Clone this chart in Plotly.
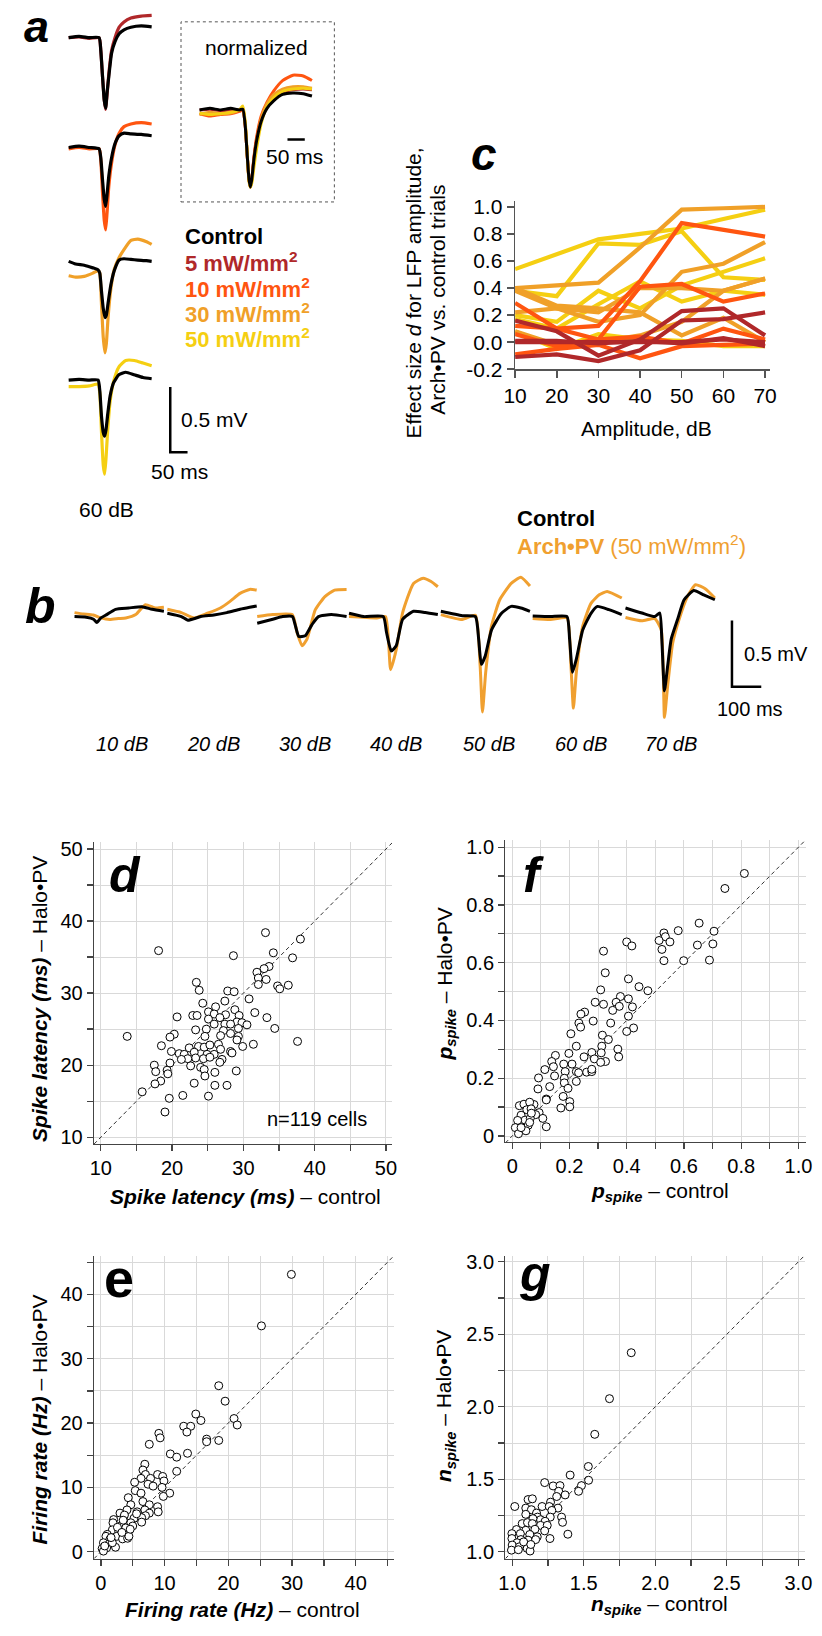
import plotly.graph_objects as go

W, H = 822, 1636
FONT = "Liberation Sans, Arial, Helvetica, sans-serif"

COL_CTRL = "#000000"
COL_5 = "#b0282a"
COL_10 = "#ff5510"
COL_30 = "#f0a028"
COL_50 = "#f5cf12"
COL_ARCH = "#f0a030"

# ---------------- panel a: LFP at 60 dB (time, ms / LFP, mV) ----------------
a_powers = ["5 mW/mm<sup>2</sup>", "10 mW/mm<sup>2</sup>", "30 mW/mm<sup>2</sup>", "50 mW/mm<sup>2</sup>"]
a_row_colors = [COL_5, COL_10, COL_30, COL_50]
a_t = [
    [0, 30, 60, 88, 93, 98, 103, 107, 111, 116, 124, 134, 146, 160, 180, 210, 240],
    [0, 30, 60, 88, 93, 98, 103, 107, 111, 116, 124, 134, 146, 160, 180, 210, 240],
    [0, 20, 45, 70, 85, 90, 95, 100, 105, 109, 114, 122, 132, 146, 160, 180, 200, 225, 240],
    [0, 30, 60, 85, 90, 95, 100, 104, 108, 113, 120, 130, 145, 165, 190, 215, 240],
]
a_control = [
    [0.0, 0.01, 0.0, 0.0, -0.1, -0.3, -0.48, -0.54, -0.42, -0.3, -0.12, -0.03, 0.03, 0.06, 0.08, 0.09, 0.083],
    [0.0, 0.01, 0.0, -0.01, -0.08, -0.25, -0.4, -0.45, -0.36, -0.22, -0.08, 0.03, 0.09, 0.11, 0.105, 0.1, 0.09],
    [0.03, 0.01, 0.0, -0.02, -0.035, -0.06, -0.2, -0.33, -0.40, -0.38, -0.29, -0.15, -0.04, 0.04, 0.05, 0.045, 0.04, 0.035, 0.03],
    [0.0, 0.005, 0.0, 0.0, -0.08, -0.28, -0.4, -0.43, -0.38, -0.26, -0.12, -0.02, 0.04, 0.06, 0.04, 0.02, 0.01],
]
a_laser = [
    [0.0, 0.005, -0.005, 0.0, -0.1, -0.3, -0.48, -0.55, -0.44, -0.28, -0.1, 0.0, 0.08, 0.12, 0.15, 0.165, 0.17],
    [-0.01, 0.0, -0.01, -0.01, -0.1, -0.35, -0.56, -0.63, -0.5, -0.3, -0.12, 0.02, 0.11, 0.16, 0.18, 0.19, 0.18],
    [-0.08, -0.09, -0.085, -0.06, -0.04, -0.06, -0.3, -0.55, -0.67, -0.6, -0.4, -0.18, -0.03, 0.06, 0.12, 0.19, 0.2, 0.18, 0.16],
    [-0.05, -0.05, -0.045, -0.03, -0.1, -0.4, -0.65, -0.72, -0.6, -0.38, -0.16, -0.01, 0.1, 0.15, 0.15, 0.13, 0.11],
]

# normalized inset (time, ms / normalized LFP)
n_t = [0, 30, 60, 90, 115, 125, 132, 138, 143, 147, 151, 157, 165, 178, 195, 215, 240, 270, 300, 325]
n_5 = [0.0, 0.01, -0.01, 0.0, 0.0, 0.01, -0.2, -0.6, -0.9, -1.0, -0.9, -0.64, -0.38, -0.12, 0.05, 0.16, 0.23, 0.26, 0.27, 0.26]
n_10 = [-0.05, -0.08, -0.06, -0.05, -0.02, 0.0, -0.2, -0.6, -0.9, -1.0, -0.9, -0.62, -0.35, -0.08, 0.1, 0.25, 0.38, 0.45, 0.44, 0.38]
n_30 = [-0.06, -0.03, -0.05, -0.04, 0.0, 0.03, -0.18, -0.6, -0.92, -1.0, -0.92, -0.68, -0.42, -0.12, 0.08, 0.2, 0.27, 0.3, 0.3, 0.28]
n_50 = [-0.04, -0.06, -0.05, -0.03, 0.0, 0.05, -0.15, -0.58, -0.92, -1.0, -0.95, -0.75, -0.5, -0.18, 0.04, 0.16, 0.24, 0.27, 0.28, 0.27]
n_ctrl = [0.0, 0.02, 0.0, 0.02, 0.0, 0.01, -0.2, -0.6, -0.9, -1.0, -0.9, -0.65, -0.4, -0.15, 0.02, 0.12, 0.2, 0.22, 0.21, 0.18]

# ---------------- panel b: LFP vs. sound amplitude ----------------
b_levels = ["10 dB", "20 dB", "30 dB", "40 dB", "50 dB", "60 dB", "70 dB"]
b_ctrl_t = [
    [0, 40, 65, 76, 90, 110, 140, 185, 230, 265, 305],
    [0, 48, 70, 114, 159, 203, 248, 281, 305],
    [0, 53, 87, 120, 131, 142, 164, 187, 209, 253, 305],
    [0, 50, 117, 128, 144, 161, 183, 220, 260, 303],
    [0, 73, 118, 129, 138, 151, 173, 207, 240, 273, 304],
    [0, 61, 117, 126, 136, 149, 171, 199, 221, 260, 304],
    [0, 56, 100, 117, 124, 133, 144, 156, 178, 200, 233, 267, 305],
]
b_ctrl_v = [
    [0.0, -0.005, -0.02, -0.045, -0.01, 0.015, 0.055, 0.065, 0.075, 0.055, 0.04],
    [0.025, 0.0, -0.027, 0.0, 0.012, 0.03, 0.055, 0.07, 0.08],
    [-0.05, -0.02, 0.0, 0.0, -0.075, -0.15, -0.145, -0.06, 0.0, 0.015, 0.0],
    [0.025, 0.0, 0.0, -0.12, -0.26, -0.22, -0.02, 0.04, 0.03, 0.015],
    [0.04, 0.007, 0.0, -0.17, -0.36, -0.3, -0.1, 0.025, 0.077, 0.065, 0.04],
    [0.005, 0.0, 0.0, -0.17, -0.42, -0.32, -0.1, 0.025, 0.077, 0.052, 0.015],
    [0.065, 0.027, 0.0, 0.027, -0.17, -0.56, -0.37, -0.17, -0.02, 0.127, 0.196, 0.164, 0.127],
]
b_arch_t = [
    [0, 30, 64, 90, 120, 150, 175, 209, 242, 276, 305],
    [0, 48, 92, 137, 181, 214, 248, 281, 305],
    [0, 53, 120, 136, 153, 170, 198, 231, 264, 305],
    [0, 95, 125, 142, 161, 183, 220, 253, 280, 303],
    [0, 73, 118, 134, 142, 153, 173, 201, 240, 273, 304],
    [0, 61, 117, 130, 139, 149, 171, 199, 227, 254, 304],
    [0, 56, 100, 122, 133, 144, 161, 183, 211, 239, 272, 305],
]
b_arch_v = [
    [0.03, 0.02, 0.012, -0.01, -0.022, -0.015, -0.01, 0.015, 0.09, 0.065, 0.07],
    [0.055, 0.03, -0.01, 0.025, 0.065, 0.115, 0.175, 0.205, 0.2],
    [0.0, 0.015, 0.015, -0.12, -0.22, -0.17, 0.05, 0.15, 0.2, 0.205],
    [0.0, -0.01, 0.0, -0.4, -0.25, 0.03, 0.25, 0.29, 0.265, 0.225],
    [0.015, -0.022, 0.01, -0.37, -0.72, -0.42, -0.07, 0.127, 0.25, 0.296, 0.23],
    [-0.015, -0.022, -0.01, -0.35, -0.69, -0.42, -0.07, 0.1, 0.164, 0.19, 0.14],
    [-0.007, -0.032, -0.015, -0.1, -0.76, -0.52, -0.2, -0.02, 0.15, 0.24, 0.21, 0.14],
]

# ---------------- panel c: effect size vs amplitude ----------------
c_amp = [10, 20, 30, 40, 50, 60, 70]
c_50mw = [
    [0.54, 0.65, 0.76, 0.80, 0.84, 0.91, 0.98],
    [0.38, 0.34, 0.73, 0.72, 0.82, 0.48, 0.46],
    [0.20, 0.15, 0.38, 0.25, 0.42, 0.52, 0.62],
    [0.17, 0.10, 0.28, 0.45, 0.30, 0.38, 0.35],
    [0.08, -0.05, 0.06, 0.02, 0.01, -0.03, -0.03],
]
c_30mw = [
    [0.40, 0.42, 0.44, 0.70, 0.98, 0.99, 1.00],
    [0.38, 0.25, 0.15, 0.20, 0.52, 0.58, 0.74],
    [0.22, 0.25, 0.22, 0.40, 0.40, 0.38, 0.47],
    [0.40, 0.27, 0.25, 0.22, 0.05, 0.18, 0.00],
    [0.08, -0.02, 0.00, 0.05, 0.15, 0.38, 0.47],
]
c_10mw = [
    [0.29, 0.10, 0.12, 0.45, 0.88, 0.83, 0.78],
    [0.12, 0.10, 0.02, 0.41, 0.43, 0.30, 0.36],
    [0.06, -0.03, 0.02, 0.04, -0.01, 0.10, 0.02],
    [-0.09, -0.05, -0.02, -0.12, -0.03, -0.02, -0.01],
]
c_5mw = [
    [0.16, 0.08, -0.10, 0.02, 0.23, 0.25, 0.05],
    [0.00, 0.00, 0.00, 0.00, 0.00, 0.02, 0.00],
    [-0.11, -0.09, -0.14, -0.06, 0.16, 0.17, 0.22],
    [0.01, 0.01, -0.01, 0.01, -0.01, 0.03, -0.03],
]
c_yticks = [-0.2, 0.0, 0.2, 0.4, 0.6, 0.8, 1.0]

# ---------------- panel d: spike latency (ms) ----------------
d_control = [18.1, 13.7, 28.6, 33.1, 38.0, 34.2, 36.9, 33.6, 32.9, 31.9, 32.1, 33.2, 32.1, 34.8, 36.3, 35.1,
             23.4, 23.8, 27.8, 28.7, 30.8, 24.3, 27.4, 26.1, 28.8, 22.9, 23.5, 20.7, 25.1, 25.9, 27.5, 29.4,
             31.6, 33.3, 25.1, 26.7, 29.1, 29.8, 30.5, 25.9, 27.4, 28.2, 29.3, 34.4, 24.8, 27.2, 28.2, 23.3,
             20.3, 19.7, 24.6, 26.8, 29.3, 29.1, 37.6, 31.4, 29.9, 18.5, 23.7, 22.4, 24.5, 25.3, 26.5, 26.8,
             28.2, 28.4, 19.9, 21.0, 21.7, 23.1, 24.9, 25.9, 23.3, 22.2, 24.4, 25.3, 21.3, 27.0, 26.7, 19.7,
             17.5, 22.6, 24.0, 24.5, 17.7, 19.3, 19.4, 26.0, 29.0, 24.6, 18.4, 17.6, 23.1, 26.0, 27.7, 15.8,
             21.5, 25.1, 19.6, 19.0]
d_halo = [35.9, 24.0, 35.2, 38.4, 37.5, 35.6, 34.9, 33.7, 33.4, 32.9, 32.1, 31.9, 31.2, 31.0, 31.1, 30.6,
          31.5, 30.4, 30.3, 30.2, 29.2, 28.6, 28.9, 28.1, 27.7, 26.9, 26.9, 26.7, 27.4, 27.1, 27.0, 26.9,
          27.3, 26.6, 26.4, 26.6, 26.0, 25.9, 25.6, 25.7, 25.7, 25.7, 25.1, 25.1, 25.0, 24.8, 24.4, 24.9,
          24.3, 23.9, 24.0, 24.1, 24.0, 23.5, 23.3, 22.9, 22.6, 22.7, 22.6, 22.4, 22.5, 22.8, 22.9, 22.2,
          21.9, 21.7, 21.9, 21.6, 21.5, 21.8, 21.5, 21.5, 21.0, 20.9, 20.9, 21.1, 20.8, 20.8, 20.4, 20.3,
          20.0, 19.9, 19.7, 19.4, 19.1, 19.3, 18.8, 19.0, 19.2, 18.5, 17.8, 17.4, 17.5, 17.2, 17.2, 16.3,
          15.8, 15.7, 15.4, 13.5]

# ---------------- panel f: p_spike ----------------
f_control = [0.811, 0.743, 0.653, 0.580, 0.705, 0.530, 0.535, 0.513, 0.551, 0.400, 0.418, 0.523, 0.647, 0.701,
             0.319, 0.530, 0.599, 0.689, 0.325, 0.406, 0.443, 0.474, 0.309, 0.378, 0.363, 0.290, 0.319, 0.374,
             0.420, 0.351, 0.406, 0.253, 0.240, 0.406, 0.283, 0.233, 0.344, 0.239, 0.424, 0.400, 0.205, 0.315,
             0.336, 0.224, 0.313, 0.369, 0.278, 0.311, 0.198, 0.151, 0.251, 0.372, 0.287, 0.138, 0.326, 0.309,
             0.209, 0.180, 0.144, 0.185, 0.114, 0.224, 0.260, 0.278, 0.232, 0.278, 0.148, 0.092, 0.182, 0.224,
             0.182, 0.131, 0.195, 0.090, 0.178, 0.119, 0.201, 0.076, 0.025, 0.041, 0.061, 0.170, 0.201, 0.119,
             0.051, 0.066, 0.094, 0.082, 0.031, 0.045, 0.063, 0.107, 0.019, 0.056, 0.119, 0.011, 0.048, 0.022,
             0.031, 0.061, 0.067]
f_halo = [0.909, 0.857, 0.737, 0.711, 0.709, 0.703, 0.690, 0.677, 0.672, 0.672, 0.658, 0.646, 0.661, 0.665,
          0.640, 0.607, 0.607, 0.609, 0.565, 0.544, 0.517, 0.503, 0.506, 0.483, 0.463, 0.463, 0.456, 0.449,
          0.447, 0.435, 0.475, 0.429, 0.422, 0.415, 0.398, 0.391, 0.391, 0.377, 0.374, 0.362, 0.354, 0.349,
          0.334, 0.311, 0.311, 0.301, 0.289, 0.288, 0.286, 0.279, 0.274, 0.274, 0.267, 0.258, 0.258, 0.255,
          0.249, 0.249, 0.240, 0.223, 0.230, 0.223, 0.221, 0.223, 0.219, 0.231, 0.208, 0.201, 0.200, 0.189,
          0.184, 0.171, 0.165, 0.163, 0.137, 0.128, 0.119, 0.109, 0.105, 0.110, 0.117, 0.097, 0.101, 0.125,
          0.091, 0.094, 0.081, 0.074, 0.072, 0.055, 0.061, 0.061, 0.054, 0.037, 0.032, 0.029, 0.018, 0.008,
          0.029, 0.047, 0.079]

# ---------------- panel e: firing rate (Hz) ----------------
e_control = [29.9, 25.2, 18.5, 19.5, 14.9, 15.7, 20.9, 21.4, 13.0, 14.1, 13.5, 9.1, 9.3, 7.6, 16.6, 16.6, 18.5,
             10.9, 11.9, 13.6, 11.9, 6.9, 6.6, 7.0, 6.3, 7.8, 8.9, 9.7, 9.9, 5.3, 7.4, 8.2, 9.6, 10.8, 9.8, 5.4,
             6.3, 4.3, 6.6, 7.6, 4.7, 8.9, 9.0, 4.1, 3.0, 5.7, 6.9, 7.6, 3.7, 7.0, 5.2, 6.4, 2.9, 2.0, 3.8, 1.9,
             4.7, 6.4, 3.1, 3.9, 5.0, 1.8, 2.8, 1.0, 2.5, 3.4, 4.2, 0.8, 1.4, 0.4, 1.3, 2.3, 0.9, 0.2, 0.4, 1.8,
             4.4, 0.6, 1.6, 2.6, 3.3, 4.6, 5.6, 3.5]
e_halo = [43.1, 35.1, 25.8, 23.4, 21.4, 20.4, 20.7, 19.7, 19.5, 19.5, 18.6, 18.4, 17.7, 16.7, 17.5, 17.1, 17.3,
          15.2, 14.7, 15.3, 12.5, 13.6, 12.7, 12.0, 11.4, 11.4, 12.0, 11.7, 11.0, 10.8, 10.5, 10.2, 10.0, 9.1,
          8.6, 9.5, 9.1, 8.4, 7.8, 7.3, 7.3, 7.0, 6.2, 6.5, 6.0, 6.2, 6.5, 6.0, 5.7, 5.6, 5.2, 5.3, 4.9, 5.0,
          4.6, 4.5, 4.5, 4.6, 4.0, 3.7, 4.0, 3.4, 3.2, 2.7, 2.4, 2.0, 2.1, 2.4, 1.9, 1.4, 1.2, 0.7, 0.6, 0.5,
          0.1, 1.4, 2.4, 0.9, 2.2, 3.8, 3.0, 3.5, 5.9, 4.9]

# ---------------- panel g: n_spike ----------------
g_control = [1.832, 1.680, 1.577, 1.532, 1.534, 1.405, 1.484, 1.464, 1.227, 1.286, 1.334, 1.325, 1.370, 1.311,
             1.018, 1.111, 1.141, 1.268, 1.209, 1.259, 1.320, 1.095, 1.134, 1.277, 1.170, 1.095, 1.177, 1.345,
             1.266, 1.198, 1.145, 1.230, 1.352, 1.070, 1.107, 1.141, 1.198, 1.245, 1.030, 1.095, 1.159, 1.227,
             0.998, 1.057, 1.123, 1.389, 1.175, 0.998, 1.061, 1.111, 1.164, 1.264, 1.034, 1.084, 1.000, 1.050,
             1.105, 0.995, 1.043, 1.125, 1.080, 1.130]
g_halo = [2.373, 2.056, 1.810, 1.588, 1.493, 1.529, 1.456, 1.417, 1.477, 1.454, 1.456, 1.417, 1.392, 1.381,
          1.312, 1.360, 1.365, 1.342, 1.312, 1.312, 1.301, 1.301, 1.290, 1.285, 1.267, 1.258, 1.239, 1.239,
          1.239, 1.221, 1.228, 1.210, 1.203, 1.194, 1.201, 1.194, 1.182, 1.182, 1.153, 1.148, 1.155, 1.144,
          1.125, 1.125, 1.119, 1.121, 1.103, 1.091, 1.084, 1.080, 1.084, 1.091, 1.062, 1.057, 1.046, 1.034,
          1.023, 1.011, 1.014, 1.005, 1.068, 1.050]

# scatter tick values (major = labelled, minor = grid only)
d_major = [10, 20, 30, 40, 50]
d_minor = [15, 25, 35, 45]
f_major = [0, 0.2, 0.4, 0.6, 0.8, 1.0]
f_labels = ["0", "0.2", "0.4", "0.6", "0.8", "1.0"]
f_minor = [0.1, 0.3, 0.5, 0.7, 0.9]
e_major = [0, 10, 20, 30, 40]
e_minor = [5, 15, 25, 35, 45]
g_major = [1.0, 1.5, 2.0, 2.5, 3.0]
g_labels = ["1.0", "1.5", "2.0", "2.5", "3.0"]
g_minor = [1.25, 1.75, 2.25, 2.75]

# =====================================================================
fig = go.Figure()
layout_axes = {}
counter = [0]


def add_axes(box, xr, yr, xkw=None, ykw=None):
    """box = (left, right, top, bottom) in pixels."""
    counter[0] += 1
    n = counter[0]
    s = "" if n == 1 else str(n)
    l, r, t, b = box
    xa = dict(domain=[l / W, r / W], range=xr, anchor="y" + s, visible=False, fixedrange=True)
    ya = dict(domain=[1 - b / H, 1 - t / H], range=yr, anchor="x" + s, visible=False, fixedrange=True)
    if xkw:
        xa.update(xkw)
    if ykw:
        ya.update(ykw)
    layout_axes["xaxis" + s] = xa
    layout_axes["yaxis" + s] = ya
    return "x" + s, "y" + s


def origin_axes(box, ox, oy, kx, ky):
    l, r, t, b = box
    xr = [(l - ox) / kx, (r - ox) / kx]
    yr = [(oy - b) / ky, (oy - t) / ky]
    return add_axes(box, xr, yr)


def line(xa, ya, x, y, color, width=3.0, dash=None, shape="spline"):
    fig.add_trace(go.Scatter(x=x, y=y, xaxis=xa, yaxis=ya, mode="lines",
                             line=dict(color=color, width=width, dash=dash, shape=shape, smoothing=0.5),
                             hoverinfo="skip", showlegend=False))


annotations = []


def ann(text, x, y, size=20, color="black", xanchor="center", angle=0):
    annotations.append(dict(text=text, x=x / W, y=1 - y / H, xref="paper", yref="paper",
                            showarrow=False, xanchor=xanchor, yanchor="middle", textangle=angle,
                            font=dict(family=FONT, size=size, color=color)))


# ---------- panel a ----------
KX_A, KY_A = 0.354, 132.0
a_baselines = [32, 143, 262, 378]
for i in range(4):
    oy = a_baselines[i]
    xa, ya = origin_axes((52, 150, oy - 30, oy + 100), 58, oy, KX_A, KY_A)
    line(xa, ya, a_t[i], a_laser[i], a_row_colors[i], 3.2)
    line(xa, ya, a_t[i], a_control[i], COL_CTRL, 3.2)

xa, ya = origin_axes((186, 312, 55, 196), 192, 105, KX_A, 78.0)
for vals, col in [(n_5, COL_5), (n_10, COL_10), (n_30, COL_30), (n_50, COL_50), (n_ctrl, COL_CTRL)]:
    line(xa, ya, n_t, vals, col, 3.0)

# scale bars panel a
xa, ya = origin_axes((150, 200, 378, 462), 162, 451, KX_A, KY_A)
line(xa, ya, [0, 0, 50], [0.5, 0, 0], "black", 2.5, shape="linear")
xa, ya = origin_axes((275, 310, 128, 142), 282, 135, KX_A, 78.0)
line(xa, ya, [0, 50], [0, 0], "black", 2.5, shape="linear")

ann("<b><i>a</i></b>", 25, 21, size=45)
ann("normalized", 250, 42, size=21)
ann("50 ms", 289, 152, size=21)
ann("0.5 mV", 171, 418, size=21, xanchor="left")
ann("50 ms", 171, 470, size=21)
ann("60 dB", 97, 509, size=21)
ann("<b>Control</b>", 175, 233, size=22, xanchor="left")
for i, lab in enumerate(a_powers):
    ann("<b>" + lab + "</b>", 175, 259 + 25.5 * i, size=22, color=a_row_colors[i], xanchor="left")

# ---------- panel b ----------
KX_B, KY_B = 0.3, 134.0
B_X0 = [64, 159, 251, 345, 439, 533, 628]
B_LAB_X = [113, 206, 300, 393, 488, 582, 675]
for i in range(7):
    xa, ya = origin_axes((B_X0[i] - 4, B_X0[i] + 96, 562, 732), B_X0[i], 617, KX_B, KY_B)
    line(xa, ya, b_arch_t[i], b_arch_v[i], COL_ARCH, 3.0)
    line(xa, ya, b_ctrl_t[i], b_ctrl_v[i], COL_CTRL, 3.0)
    ann("<i>" + b_levels[i] + "</i>", B_LAB_X[i], 746, size=20)

xa, ya = origin_axes((728, 775, 614, 696), 737, 688, KX_B, KY_B)
line(xa, ya, [0, 0, 100], [0.5, 0, 0], "black", 2.5, shape="linear")
ann("0.5 mV", 747, 655, size=20, xanchor="left")
ann("100 ms", 755, 710, size=20)
ann("<b><i>b</i></b>", 29, 606, size=50)
ann("<b>Control</b>", 515, 518, size=22, xanchor="left")
ann("<b>Arch•PV</b> (50 mW/mm<sup>2</sup>)", 515, 545, size=22, color=COL_ARCH, xanchor="left")

# ---------- panel c ----------
c_axis = dict(visible=True, showline=True, linecolor="#555", linewidth=1.5, ticks="outside",
              ticklen=7, tickcolor="#555", tickwidth=1.5, showgrid=False, zeroline=False,
              tickfont=dict(family=FONT, size=21, color="black"))
xa, ya = add_axes((515, 776, 197, 367), [10, 71.2], [-0.2, 1.044],
                  xkw=dict(c_axis, tickvals=c_amp),
                  ykw=dict(c_axis, tickvals=c_yticks, ticktext=["%.1f" % v for v in c_yticks]))
for group, col in [(c_50mw, COL_50), (c_30mw, COL_30), (c_10mw, COL_10), (c_5mw, COL_5)]:
    for vals in group:
        line(xa, ya, c_amp, vals, col, width=4.2, shape="linear")
ann("<b><i>c</i></b>", 483, 150, size=46)
ann("Amplitude, dB", 650, 427, size=21)
ann("Effect size <i>d</i> for LFP amplitude,", 412, 290, size=21, angle=-90)
ann("Arch•PV vs. control trials", 436, 297, size=21, angle=-90)


# ---------- scatter panels ----------
def scatter_panel(box, xr, yr, major, labels, minor, xs, ys, lab, lab_pos, lab_size,
                  xtitle, xt_pos, ytitle, yt_pos):
    base = dict(visible=True, showline=True, linecolor="#444", linewidth=1.3, ticks="outside",
                ticklen=6, tickcolor="#444", tickwidth=1.3, showgrid=True, gridcolor="#d9d9d9",
                gridwidth=1, zeroline=False, tickmode="array", tickvals=major, ticktext=labels,
                tickfont=dict(family=FONT, size=20, color="black"),
                minor=dict(tickmode="array", tickvals=minor, ticks="outside", ticklen=6,
                           tickcolor="#444", tickwidth=1.3, showgrid=True, gridcolor="#d9d9d9",
                           gridwidth=1))
    xa, ya = add_axes(box, xr, yr, xkw=dict(base), ykw=dict(base))
    lo, hi = xr[0], max(xr[1], yr[1])
    fig.add_trace(go.Scatter(x=[lo, hi], y=[lo, hi], xaxis=xa, yaxis=ya, mode="lines",
                             line=dict(color="#333", width=1, dash="4px,3px"),
                             hoverinfo="skip", showlegend=False))
    fig.add_trace(go.Scatter(x=xs, y=ys, xaxis=xa, yaxis=ya, mode="markers",
                             marker=dict(symbol="circle", size=8, color="white",
                                         line=dict(color="black", width=1)),
                             hoverinfo="skip", showlegend=False, cliponaxis=False))
    ann(lab, lab_pos[0], lab_pos[1], size=lab_size)
    ann(xtitle, xt_pos[0], xt_pos[1], size=21)
    ann(ytitle, yt_pos[0], yt_pos[1], size=21, angle=-90)


scatter_panel((84, 389, 845, 1150), [9.05, 50.85], [9.05, 50.95], d_major, [str(v) for v in d_major],
              d_minor, d_control, d_halo, "<b><i>d</i></b>", (116, 878), 50,
              "<b><i>Spike latency (ms)</i></b> – control", (239, 1203),
              "<b><i>Spike latency (ms)</i></b> – Halo•PV", (28, 1003))
ann("n=119 cells", 312, 1125, size=20)

scatter_panel((505, 813, 843, 1148), [-0.024, 1.027], [-0.021, 1.024], f_major, f_labels, f_minor,
              f_control, f_halo, "<b><i>f</i></b>", (534, 878), 50,
              "<b><i>p<sub>spike</sub></i></b> – control", (663, 1198),
              "<b><i>p<sub>spike</sub></i></b> – Halo•PV", (444, 988))

scatter_panel((84, 391, 1263, 1569), [-1.07, 46.0], [-1.08, 45.98], e_major, [str(v) for v in e_major],
              e_minor, e_control, e_halo, "<b>e</b>", (110, 1285), 54,
              "<b><i>Firing rate (Hz)</i></b> – control", (236, 1620),
              "<b><i>Firing rate (Hz)</i></b> – Halo•PV", (28, 1428))

scatter_panel((505, 812, 1263, 1569), [0.952, 3.048], [0.952, 3.041], g_major, g_labels, g_minor,
              g_control, g_halo, "<b><i>g</i></b>", (535, 1281), 50,
              "<b><i>n<sub>spike</sub></i></b> – control", (663, 1616),
              "<b><i>n<sub>spike</sub></i></b> – Halo•PV", (444, 1415))

shapes = [dict(type="rect", xref="paper", yref="paper", x0=173 / W, x1=330 / W,
               y0=1 - 198 / H, y1=1 - 16 / H, line=dict(color="#555", width=1, dash="3px,3px"))]

fig.update_layout(width=W, height=H, autosize=False, margin=dict(l=0, r=0, t=0, b=0),
                  paper_bgcolor="white", plot_bgcolor="rgba(0,0,0,0)", showlegend=False,
                  font=dict(family=FONT, size=20, color="black"),
                  annotations=annotations, shapes=shapes, **layout_axes)
fig.write_html("out.html", config={"displayModeBar": False, "staticPlot": True},
               post_script="document.body.style.margin='0px';document.body.style.padding='0px';"
                           "document.body.style.overflow='hidden';")
